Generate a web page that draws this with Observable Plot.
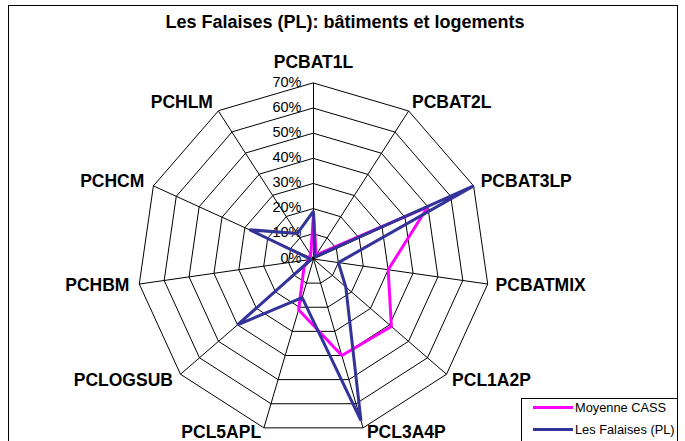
<!DOCTYPE html>
<html><head><meta charset="utf-8">
<script src="https://cdn.jsdelivr.net/npm/d3@7"></script>
<script src="https://cdn.jsdelivr.net/npm/@observablehq/plot@0.6"></script>
<style>
body{margin:0;background:#fff;font-family:"Liberation Sans",Arial,sans-serif;}
#wrap{position:relative;width:685px;height:441px;overflow:hidden;background:#fff;}
#wrap svg{position:absolute;left:0;top:0;}
#frame{position:absolute;left:8px;top:5px;width:668px;height:470px;border:1px solid #000;pointer-events:none;}
#legend{position:absolute;left:521px;top:398px;width:155px;height:70px;border:1px solid #000;background:#fff;font-size:12.8px;color:#000;}
.row{position:absolute;left:0;height:16px;display:flex;align-items:center;}
.row span.sw{display:inline-block;width:40px;height:3px;margin-left:11px;margin-right:2px;}
</style></head><body><div id="wrap"><div id="frame"></div></div>
<script>
const title = "Les Falaises (PL): bâtiments et logements";
const categories = ["PCBAT1L","PCBAT2L","PCBAT3LP","PCBATMIX","PCL1A2P","PCL3A4P","PCL5APL","PCLOGSUB","PCHBM","PCHCM","PCHLM"];
const seriesNames = ["Moyenne CASS","Les Falaises (PL)"];
const seriesColors = ["#ff00ff","#333399"];
const moyenneCASS = [18, 2, 50, 30, 41, 40, 21, 5, 2, 2, 2];
const lesFalaises = [19, 1, 70, 10, 17, 67, 16, 40, 1, 28, 12];
const tickValues = [0, 10, 20, 30, 40, 50, 60, 70];
const tickLabels = ["0%","10%","20%","30%","40%","50%","60%","70%"];

const W = 685, H = 441, cx = 313, cy = 258.5, R = 176, maxV = 70, k = R / maxV;
const n = categories.length;
const ang = i => 2 * Math.PI * i / n;
const px = (v, i) => v * Math.sin(ang(i));
const py = (v, i) => -v * Math.cos(ang(i));

const rings = tickValues.filter(t => t > 0).flatMap(t => categories.map((c, i) => ({t, i})));
const spokes = categories.map((c, i) => ({c, i}));
const series = [moyenneCASS, lesFalaises].flatMap((vals, s) => vals.map((v, i) => ({series: seriesNames[s], v, i})));
const ticks = tickValues.map((t, j) => ({t, label: tickLabels[j]}));
const lab = 10 / k; // label offset in value units
const side = i => { const s = Math.sin(ang(i)); return s > 0.1 ? "start" : s < -0.1 ? "end" : "middle"; };
const isBottom = i => Math.cos(ang(i)) < -0.9;
const labels = categories.map((c, i) => ({c, i, side: side(i), bottom: isBottom(i)}));
const lf = 17.5;

const chart = Plot.plot({
  width: W, height: H, margin: 0,
  style: {fontFamily: "'Liberation Sans', Arial, sans-serif", background: "transparent", overflow: "visible"},
  x: {domain: [-cx / k, (W - cx) / k], range: [0, W], axis: null},
  y: {domain: [-cy / k, (H - cy) / k], range: [0, H], axis: null},
  color: {domain: seriesNames, range: seriesColors},
  marks: [
    Plot.line(rings, {x: d => px(d.t, d.i), y: d => py(d.t, d.i), z: "t", curve: "linear-closed", stroke: "#000", strokeWidth: 1}),
    Plot.link(spokes, {x1: 0, y1: 0, x2: d => px(maxV, d.i), y2: d => py(maxV, d.i), stroke: "#000", strokeWidth: 1}),
    Plot.text(ticks, {x: 0, y: d => -d.t, text: "label", textAnchor: "end", dx: -12, dy: -1, fontSize: 14.5, fill: "#000"}),
    Plot.line(series, {x: d => px(d.v, d.i), y: d => py(d.v, d.i), z: "series", stroke: "series", curve: "linear-closed", strokeWidth: 3, strokeLinejoin: "miter"}),
    Plot.text(labels.filter(d => d.side === "middle"), {x: d => px(maxV, d.i), y: d => py(maxV, d.i), text: "c", textAnchor: "middle", dy: -21, fontSize: lf, fontWeight: "bold", fill: "#000"}),
    Plot.text(labels.filter(d => d.side === "start" && !d.bottom), {x: d => px(maxV + lab, d.i), y: d => py(maxV + lab, d.i), text: "c", textAnchor: "start", dx: -2, fontSize: lf, fontWeight: "bold", fill: "#000"}),
    Plot.text(labels.filter(d => d.side === "end" && !d.bottom), {x: d => px(maxV + lab, d.i), y: d => py(maxV + lab, d.i), text: "c", textAnchor: "end", fontSize: lf, fontWeight: "bold", fill: "#000"}),
    Plot.text(labels.filter(d => d.side === "start" && d.bottom), {x: d => px(maxV + lab, d.i), y: d => py(maxV + lab, d.i), text: "c", textAnchor: "start", dx: 1, dy: -5, fontSize: lf, fontWeight: "bold", fill: "#000"}),
    Plot.text(labels.filter(d => d.side === "end" && d.bottom), {x: d => px(maxV + lab, d.i), y: d => py(maxV + lab, d.i), text: "c", textAnchor: "end", dy: -5, fontSize: lf, fontWeight: "bold", fill: "#000"}),
    Plot.text([title], {frameAnchor: "top", lineAnchor: "middle", dy: 22, dx: 2, fontSize: 18, fontWeight: "bold", fill: "#000"})
  ]
});
const wrap = document.getElementById("wrap");
wrap.insertBefore(chart, wrap.firstChild);

const legend = d3.select(wrap).append("div").attr("id", "legend");
seriesNames.forEach((name, s) => {
  const row = legend.append("div").attr("class", "row").style("top", (s === 0 ? 0 : 22) + "px");
  row.append("span").attr("class", "sw").style("background", seriesColors[s]);
  row.append("span").text(name);
});
</script></body></html>
